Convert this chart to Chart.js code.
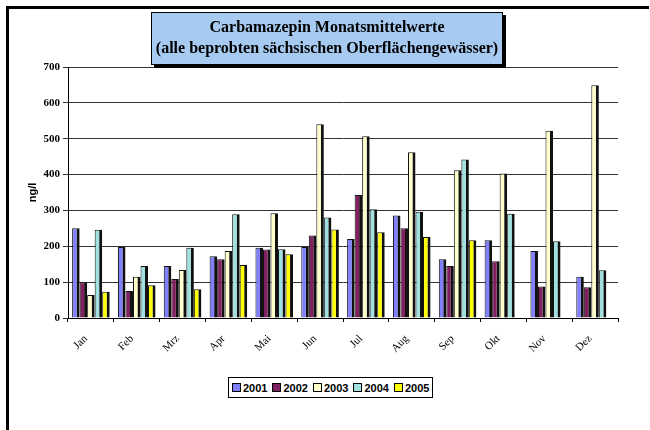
<!DOCTYPE html>
<html lang="de">
<head>
    <meta charset="UTF-8">
    <title>Carbamazepin Monatsmittelwerte</title>
    <script src="https://cdn.jsdelivr.net/npm/chart.js"></script>
    <style>
        body {
            margin: 0;
            background: #fff;
        }
        .wrap {
            position: relative;
            width: 650px;
            height: 430px;
        }
        .frame {
            position: absolute;
            left: 6px;
            top: 6px;
            width: 640px;
            height: 430px;
            border-left: 3px solid #000;
            border-top: 3px solid #000;
            pointer-events: none;
        }
        .title-box {
            position: absolute;
            left: 151px;
            top: 12px;
            width: 350px;
            height: 48px;
            background: #a6caf0;
            border: 1px solid #000;
            box-shadow: 3px 3px 0 #000;
            font-family: "Liberation Serif", "Times New Roman", serif;
            font-size: 16px;
            font-weight: bold;
            line-height: 21px;
            text-align: center;
            padding-top: 3px;
            white-space: nowrap;
        }
        .legend {
            position: absolute;
            left: 228px;
            top: 377px;
            height: 19px;
            border: 1px solid #000;
            background: #fff;
            display: flex;
            align-items: center;
            padding: 0 3px;
            font-family: "Liberation Sans", Arial, sans-serif;
            font-size: 11px;
            font-weight: bold;
        }
        .legend span.item {
            display: flex;
            align-items: center;
            margin-right: 5px;
        }
        .legend span.item:last-child {
            margin-right: 0;
        }
        .legend i {
            display: inline-block;
            width: 7px;
            height: 7px;
            border: 1px solid #000;
            margin-right: 2px;
        }
    </style>
</head>
<body>

<div class="wrap">
    <canvas id="chart" width="650" height="430"></canvas>
    <div class="frame"></div>
    <div class="title-box">Carbamazepin Monatsmittelwerte<br>(alle beprobten sächsischen Oberflächengewässer)</div>
    <div class="legend" id="legend"></div>
</div>

<script>
    const months = ['Jan', 'Feb', 'Mrz', 'Apr', 'Mai', 'Jun', 'Jul', 'Aug', 'Sep', 'Okt', 'Nov', 'Dez'];
    const years = ['2001', '2002', '2003', '2004', '2005'];

    const v2001 = [250, 198, 145, 172, 196, 198, 220, 286, 164, 217, 187, 115];
    const v2002 = [100, 75, 109, 164, 191, 230, 343, 250, 145, 158, 88, 86];
    const v2003 = [64, 115, 134, 187, 292, 540, 507, 462, 412, 403, 522, 649];
    const v2004 = [246, 145, 196, 289, 192, 280, 303, 296, 442, 291, 214, 133];
    const v2005 = [73, 91, 80, 148, 178, 247, 239, 226, 217, null, null, null];

    const yTicks = [0, 100, 200, 300, 400, 500, 600, 700];

    const seriesValues = [v2001, v2002, v2003, v2004, v2005];
    const seriesColors = ['#8080ff', '#802060', '#ffffcc', '#a0e0e0', '#ffff00'];

    const datasets = years.map((y, i) => ({
        label: y,
        data: seriesValues[i],
        backgroundColor: seriesColors[i],
        borderColor: '#111',
        borderWidth: { top: 1, left: 1, right: 3, bottom: 0 },
        borderSkipped: false,
        categoryPercentage: 0.82,
        barPercentage: 1.0
    }));

    // legend as html
    let legendEl = document.getElementById('legend');
    years.forEach((y, i) => {
        legendEl.insertAdjacentHTML('beforeend',
            `<span class="item"><i style="background:${seriesColors[i]}"></i>${y}</span>`);
    });

    // month labels drawn slanted at the x scale's tick positions
    const slantedLabels = {
        id: 'slantedLabels',
        afterDraw(chart) {
            const xs = chart.scales.x;
            const c = chart.ctx;
            c.save();
            c.font = '11px "Liberation Serif", "Times New Roman", serif';
            c.fillStyle = '#000';
            c.textAlign = 'right';
            c.textBaseline = 'middle';
            xs.ticks.forEach((t, i) => {
                const x = xs.getPixelForTick(i) - 5;
                const y = xs.top + 19;
                c.setTransform(1, 0, 0, 1, x, y);
                c.rotate(-Math.PI / 4);
                c.fillText(chart.data.labels[i], 0, 0);
            });
            c.restore();
        }
    };

    var ctx = document.getElementById('chart').getContext('2d');
    var chart = new Chart(ctx, {
        type: 'bar',
        data: {
            labels: months,
            datasets: datasets
        },
        plugins: [slantedLabels],
        options: {
            responsive: false,
            animation: false,
            layout: {
                padding: { left: 22, right: 32, top: 67, bottom: 62 }
            },
            plugins: {
                legend: { display: false },
                title: { display: false },
                tooltip: { enabled: false }
            },
            scales: {
                x: {
                    offset: true,
                    grid: {
                        offset: true,
                        drawOnChartArea: false,
                        color: '#000',
                        tickLength: 4
                    },
                    border: { color: '#000', width: 1 },
                    ticks: { display: false },
                    afterFit: function (scale) { scale.height = 50; }
                },
                y: {
                    min: 0,
                    max: 700,
                    afterBuildTicks: function (scale) {
                        scale.ticks = yTicks.map(v => ({ value: v }));
                    },
                    grid: {
                        color: '#333',
                        lineWidth: 1,
                        tickLength: 5
                    },
                    border: { color: '#000', width: 1 },
                    ticks: {
                        color: '#000',
                        padding: 3,
                        font: { family: '"Liberation Serif", "Times New Roman", serif', size: 11, weight: 'bold' }
                    },
                    title: {
                        display: true,
                        text: 'ng/l',
                        color: '#000',
                        padding: { top: 4, bottom: 0 },
                        font: { family: '"Liberation Sans", Arial, sans-serif', size: 11, weight: 'bold' }
                    },
                    afterFit: function (scale) { scale.width = 46; }
                }
            }
        }
    });
</script>

</body>
</html>
